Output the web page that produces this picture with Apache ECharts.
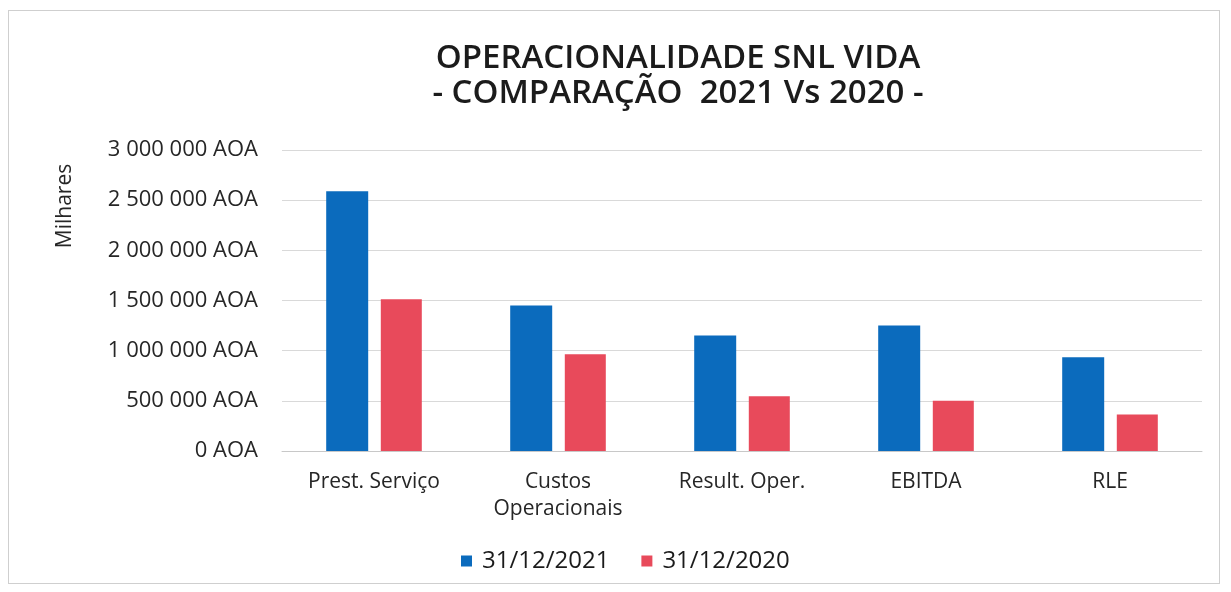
<!DOCTYPE html>
<html>
<head>
<meta charset="utf-8">
<script src="https://cdn.jsdelivr.net/npm/echarts@6/dist/echarts.min.js"></script>
<style>
    html, body { margin: 0; padding: 0; background: #fff; }
    #chart { position: absolute; left: 8px; top: 10px; width: 1212px; height: 574px; border: 1px solid #cfcfcf; box-sizing: border-box; }
</style>
</head>
<body>
<div id="chart"></div>
<script>
// categorias e valores
const categories = ['Prest. Serviço', 'Custos\nOperacionais', 'Result. Oper.', 'EBITDA', 'RLE'];
const values2021 = [2590000, 1450000, 1150000, 1250000, 935000];
const values2020 = [1512000, 965000, 545000, 500000, 365000];
const seriesNames = ['31/12/2021', '31/12/2020'];
const yTicks = [0, 500000, 1000000, 1500000, 2000000, 2500000, 3000000];

const fontFamily = '"Open Sans", Lato, sans-serif';

function formatAoa(v) {
    // separador de milhares com espaço
    return String(v).replace(/\B(?=(\d{3})+(?!\d))/g, ' ') + ' AOA';
}

const chart = echarts.init(document.getElementById('chart'));
chart.setOption({
    animation: false,
    textStyle: { fontFamily: fontFamily },
    title: {
        text: 'OPERACIONALIDADE SNL VIDA\n- COMPARAÇÃO  2021 Vs 2020 -',
        left: 664,
        textAlign: 'center',
        top: 25,
        textStyle: { fontSize: 33, fontWeight: 600, color: '#1b1b1b', lineHeight: 35, fontFamily: fontFamily }
    },
    graphic: [{
        type: 'text',
        x: 56,
        y: 195,
        rotation: Math.PI / 2,
        style: {
            text: 'Milhares',
            font: '21px "Open Sans", sans-serif',
            fill: '#262626',
            align: 'center',
            verticalAlign: 'middle'
        }
    }],
    legend: {
        data: seriesNames,
        top: 533,
        left: 447,
        itemWidth: 11,
        itemHeight: 11,
        itemGap: 32,
        icon: 'rect',
        textStyle: { fontSize: 24, color: '#1b1b1b', padding: [0, 0, 0, 5] }
    },
    grid: { left: 273, right: 17, top: 139, bottom: 132 },
    xAxis: {
        type: 'category',
        data: categories,
        axisTick: { show: false },
        axisLine: { lineStyle: { color: '#c8c8c8' } },
        axisLabel: { fontSize: 21, color: '#262626', margin: 18, lineHeight: 27 }
    },
    yAxis: {
        type: 'value',
        min: yTicks[0],
        max: yTicks[yTicks.length - 1],
        interval: 500000,
        axisLine: { show: false },
        axisTick: { show: false },
        splitLine: { lineStyle: { color: '#d9d9d9' } },
        axisLabel: { fontSize: 22, color: '#262626', margin: 24, formatter: formatAoa }
    },
    series: [
        {
            name: seriesNames[0],
            type: 'bar',
            data: values2021,
            barWidth: 42,
            barGap: '30%',
            itemStyle: { color: '#0b6bbd' }
        },
        {
            name: seriesNames[1],
            type: 'bar',
            data: values2020,
            barWidth: 41,
            itemStyle: { color: '#e84a5b' }
        }
    ]
});
</script>
</body>
</html>
